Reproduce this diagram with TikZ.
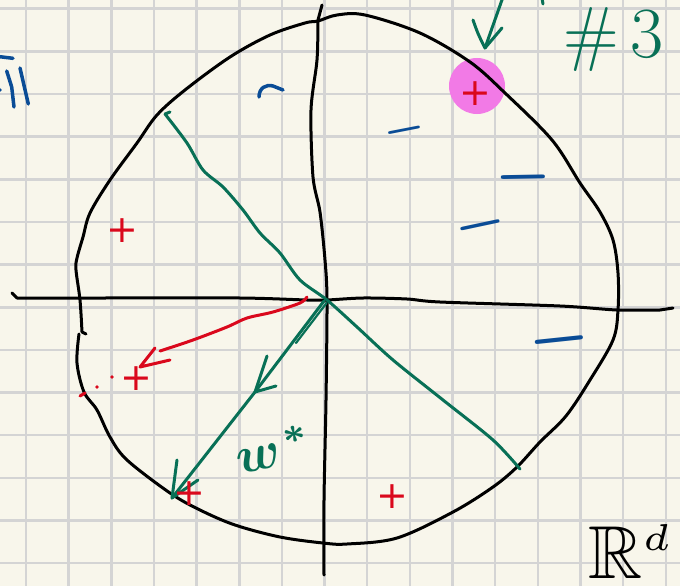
\documentclass[tikz,border=0pt]{standalone}
\usepackage{fontspec}
\usepackage{amssymb}
\usepackage{graphicx}
\usetikzlibrary{calc}
\newfontfamily\plusfont{DejaVu Sans}
\definecolor{paper}{RGB}{248,246,235}
\definecolor{gridc}{RGB}{212,212,212}
\definecolor{penG}{RGB}{8,112,86}
\definecolor{penR}{RGB}{218,8,28}
\definecolor{penB}{RGB}{10,76,150}
\definecolor{hili}{RGB}{242,122,230}
\begin{document}
\begin{tikzpicture}[x=1pt,y=-1pt,
  gridline/.style={draw=gridc, line width=2.5pt},
  kpen/.style={draw=black, line width=3pt, line cap=round, line join=round},
  gpen/.style={draw=penG, line width=3pt, line cap=round, line join=round},
  rpen/.style={draw=penR, line width=3pt, line cap=round, line join=round},
  bpen/.style={draw=penB, line width=3.5pt, line cap=round, line join=round},
  plusmark/.style={text=penR, inner sep=0pt, font=\plusfont\fontsize{38}{38}\selectfont},
  minusmark/.style={text=penB, inner sep=0pt}]
\useasboundingbox (0,0) rectangle (680,586);
\clip (0,0) rectangle (680,586);
\fill[paper] (0,0) rectangle (680,586);
\foreach \i in {0,...,15} \draw[gridline] ({26+42.65*\i},0) -- ({26+42.65*\i},586);
\foreach \j in {0,...,13} \draw[gridline] (0,{8.7+42.65*\j}) -- (680,{8.7+42.65*\j});

% highlight
\node[circle, fill=hili, minimum size=56pt, inner sep=0pt] (hl) at (477,86) {};

% key points
\coordinate (O) at (324,301);
\coordinate (Wm) at (255,392);
\coordinate (W) at (172,498);
\coordinate (Rs) at (307,297);
\coordinate (Rt) at (140,367);
\coordinate (Ttip) at (485,48);

% circle (hand drawn)
\draw[kpen] (86,334) -- (82,332) plot[smooth, tension=0.55] coordinates {(82,332) (80,300) (76,270) (77,258) (83,237) (90,213) (110,180) (137,143) (157,115) (185,90) (230,57) (270,35) (305,23) (318,21) (337,15) (365,15) (420,33) (470,62) (505,93) (552,140) (580,183) (600,212) (613,240) (618,273) (618,310) (613,340) (590,380) (566,416) (540,442) (517,467) (493,487) (453,512) (397,538) (347,544) (323,543) (280,537) (235,525) (200,510) (170,493) (127,460) (110,437) (97,410) (84,392) (77,363) (79,334)};

% axes
\draw[kpen] (12,293) -- (17,298) plot[smooth] coordinates {(17,298) (100,298) (240,298) (307,300) (327,300) (363,298) (407,299) (440,302) (560,306) (617,310) (660,310)} -- (673,308);
\draw[kpen] (322,5) -- (318,20) plot[smooth] coordinates {(318,20) (317,60) (311,110) (313,177) (320,212) (325,260) (327,300) (326,400) (324,500) (324,575)};

% green separator line
\draw[gpen] (170,112) -- (165,114) plot[smooth] coordinates {(165,114) (187,143) (203,170) (223,187) (243,210) (260,233) (280,253) (300,280) (327,300) (357,327) (393,360) (443,400) (493,440) (520,469)};

% w* arrow
\draw[gpen] (O) -- (Wm) -- (W);
\draw[gpen, line width=2.2pt] ($(O)+(2.6,2)$) -- ($(O)+(-28,42)$);
\draw[gpen] ($(Wm)+(12,-36)$) -- (Wm) -- ($(Wm)+(21,-6)$);
\draw[gpen] ($(W)+(5,-38)$) -- (W) -- ($(W)+(26,-18)$);

% red arrow
\draw[rpen] plot[smooth] coordinates {(Rs) (300,303) (273,312) (247,318) (227,327) (193,340) (160,351)};
\draw[rpen] (155,348) -- (Rt) -- (170,360);
\draw[rpen] (80,396) -- (85,393);
\fill[penR] (97,387) circle (1.8pt);
\fill[penR] (112,377) circle (1.8pt);

% top green arrow
\draw[gpen] (503,-3) -- (Ttip);
\draw[gpen] (473,20) .. controls (478,34) .. (Ttip) -- (502,28);
\draw[gpen] (542,-2) -- (543,4);

% blue marks
\draw[bpen] (259,97) .. controls (259,88) and (266,84) .. (273,86) -- (283,90);
\draw[bpen] (-2,56.5) -- (13,58.3);
\draw[bpen] (6.7,71) -- (11.7,87) -- (14,107);
\draw[bpen] (20,68) -- (28.3,104);
\fill[penB] (0,90) circle (1.8pt);

\node[minusmark, rotate=11] (m1) at (404,130) {\scalebox{4.6}{\boldmath$-$}};
\node[minusmark, rotate=1] (m2) at (523,177) {\scalebox{6.3}{\boldmath$-$}};
\node[minusmark, rotate=12] (m3) at (480,225) {\scalebox{5.7}{\boldmath$-$}};
\node[minusmark, rotate=6] (m4) at (559,340) {\scalebox{6.9}{\boldmath$-$}};

% red plus marks
\node[plusmark] (p1) at (122,231) {+};
\node[plusmark] (p2) at (475,94) {+};
\node[plusmark] (p3) at (392,497) {+};
\node[plusmark] (p4) at (189,494) {+};
\node[plusmark] (p5) at (136,379) {+};

% labels
\node[text=penG, inner sep=0pt, rotate=12] (wl) at (273,449) {\scalebox{5.2}{\boldmath$w^{\kern1pt *}$}};
\node[text=penG, inner sep=0pt, anchor=base west, font=\fontsize{72}{72}\selectfont] (num) at (563,58) {\#\kern12pt 3};
\node[text=black, inner sep=0pt, anchor=base west] (rd) at (588,578) {\scalebox{7.5}{$\mathbb{R}^{\scriptscriptstyle d}$}};
\end{tikzpicture}
\end{document}
